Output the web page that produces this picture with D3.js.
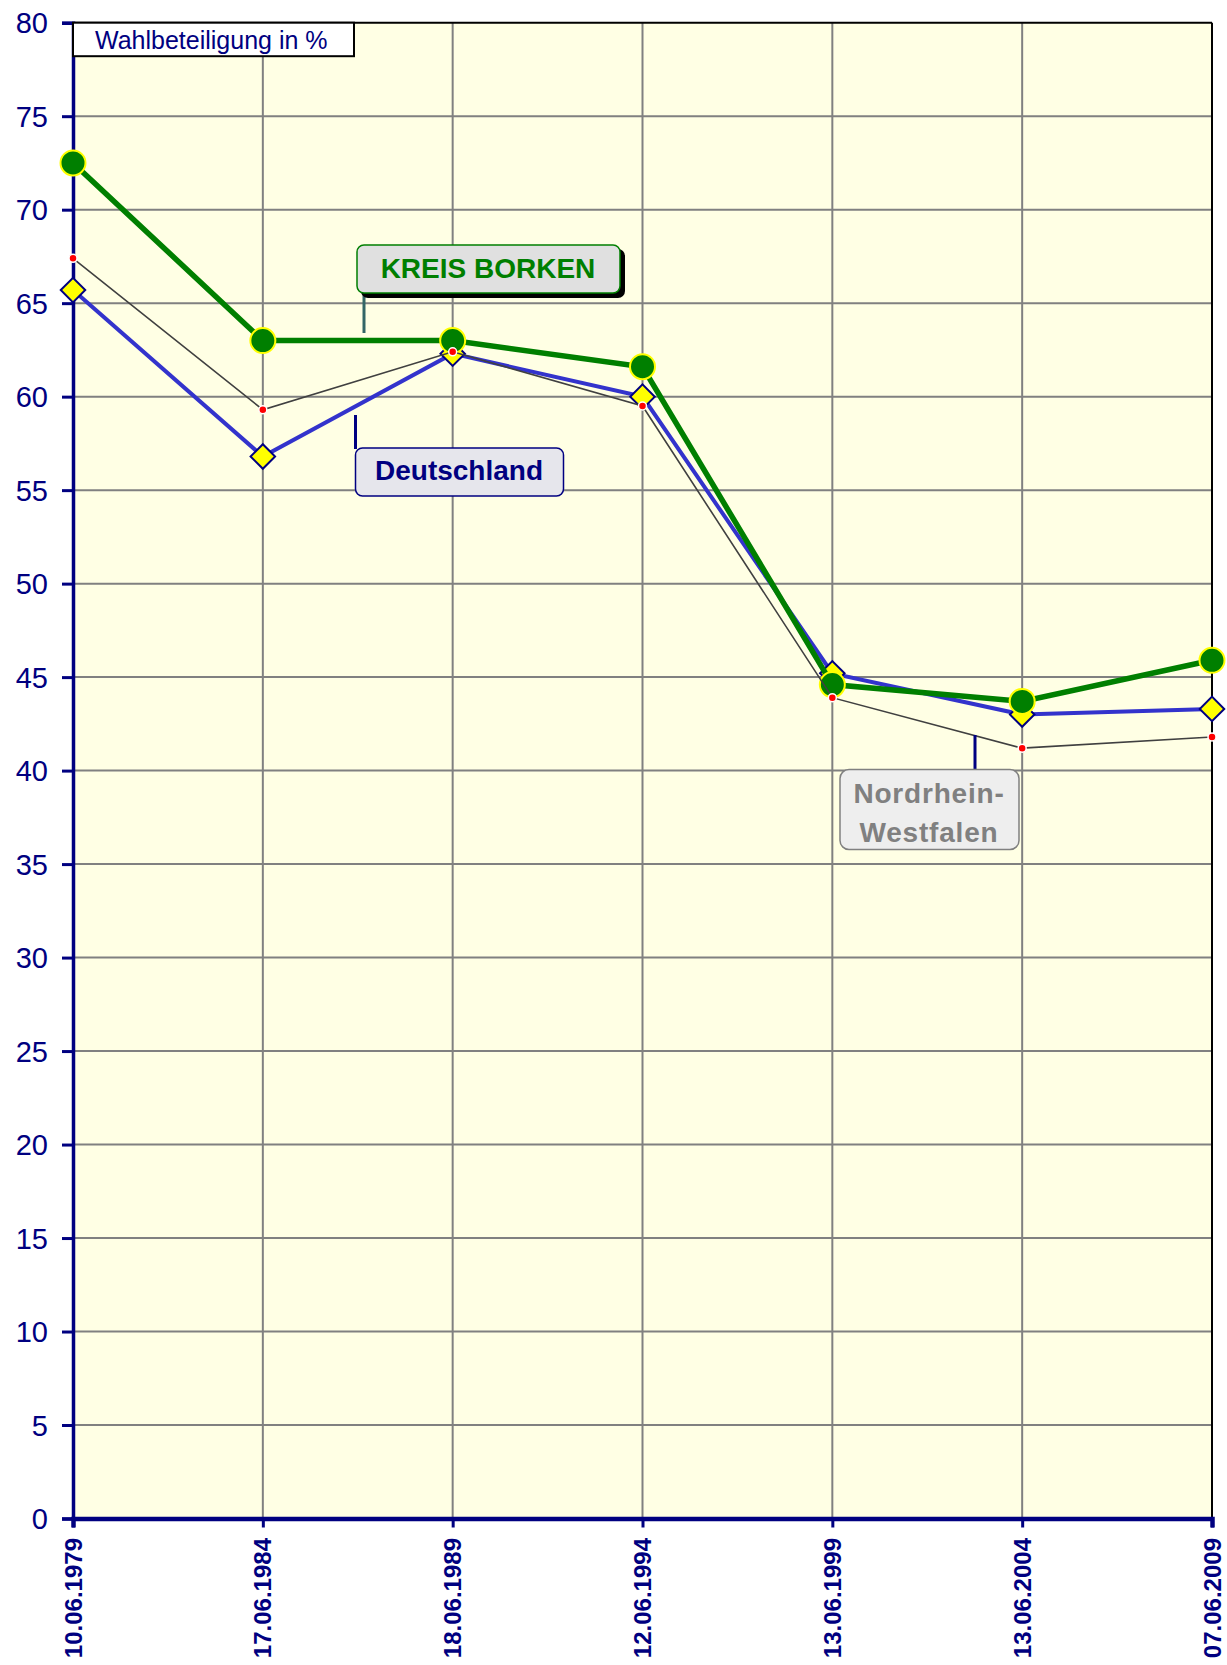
<!DOCTYPE html>
<html><head><meta charset="utf-8">
<script src="https://cdn.jsdelivr.net/npm/d3@7"></script>
<style>body{margin:0;background:#fff}svg{display:block}</style>
</head><body>
<script>
const categories = ["10.06.1979","17.06.1984","18.06.1989","12.06.1994","13.06.1999","13.06.2004","07.06.2009"];
const borken = [72.5, 63.0, 63.0, 61.6, 44.6, 43.7, 45.9];
const deutschland = [65.7, 56.8, 62.3, 60.0, 45.2, 43.0, 43.3];
const nrw = [67.4, 59.3, 62.4, 59.5, 43.9, 41.2, 41.8];
const yTicks = [0,5,10,15,20,25,30,35,40,45,50,55,60,65,70,75,80];

const W = 1227, H = 1665;
const L = 73, R = 1212, T = 22.7, B = 1518.5;
const svg = d3.select("body").append("svg").attr("width", W).attr("height", H);
const x = d3.scalePoint().domain(categories).range([L, R]).padding(0);
const y = d3.scaleLinear().domain([0, 80]).range([B, T]);
const navy = "#000080";
const font = "Liberation Sans, Arial, sans-serif";

// plot background
svg.append("rect").attr("x", L).attr("y", T).attr("width", R - L).attr("height", B - T).attr("fill", "#ffffe4");

// grid
svg.append("g").selectAll("line").data(yTicks.filter(d => d > 0 && d < 80)).join("line")
  .attr("x1", L).attr("x2", R).attr("y1", d => y(d)).attr("y2", d => y(d))
  .attr("stroke", "#808080").attr("stroke-width", 2);
svg.append("g").selectAll("line").data(categories.slice(1, -1)).join("line")
  .attr("x1", d => x(d)).attr("x2", d => x(d)).attr("y1", T).attr("y2", B)
  .attr("stroke", "#808080").attr("stroke-width", 2);

// border top/right
svg.append("line").attr("x1", L).attr("x2", R).attr("y1", T).attr("y2", T).attr("stroke", "#000").attr("stroke-width", 2);
svg.append("line").attr("x1", R).attr("x2", R).attr("y1", T).attr("y2", B).attr("stroke", "#000").attr("stroke-width", 2);

// y axis
const yAxis = svg.append("g").attr("transform", `translate(${L},0)`)
  .call(d3.axisLeft(y).tickValues(yTicks).tickSize(11).tickPadding(14));
yAxis.select(".domain").attr("stroke", navy).attr("stroke-width", 3.5);
yAxis.selectAll(".tick line").attr("stroke", navy).attr("stroke-width", 3);
yAxis.selectAll(".tick text").attr("fill", navy).attr("font-family", font)
  .attr("font-size", 29).attr("dy", "0.35em");

// x axis
const xAxis = svg.append("g").attr("transform", `translate(0,${B})`)
  .call(d3.axisBottom(x).tickSize(9).tickFormat(""));
xAxis.select(".domain").attr("stroke", navy).attr("stroke-width", 4.5);
xAxis.selectAll(".tick line").attr("stroke", navy).attr("stroke-width", 3);
svg.append("g").selectAll("text").data(categories).join("text")
  .attr("transform", d => `translate(${x(d)},1538) rotate(-90)`)
  .attr("text-anchor", "end").attr("dy", "0.36em")
  .attr("fill", navy).attr("font-family", font)
  .attr("font-size", 24).attr("font-weight", "bold")
  .text(d => d);

const line = d3.line().x((d, i) => x(categories[i])).y(d => y(d));

// Deutschland
svg.append("path").datum(deutschland).attr("d", line).attr("fill", "none").attr("stroke", "#3333cc").attr("stroke-width", 4);
svg.append("g").selectAll("path").data(deutschland).join("path")
  .attr("d", d3.symbol(d3.symbolSquare, 300))
  .attr("transform", (d, i) => `translate(${x(categories[i])},${y(d)}) rotate(45)`)
  .attr("fill", "#ffff00").attr("stroke", navy).attr("stroke-width", 2);

// Kreis Borken
svg.append("path").datum(borken).attr("d", line).attr("fill", "none").attr("stroke", "#007f00").attr("stroke-width", 5.5);
svg.append("g").selectAll("circle").data(borken).join("circle")
  .attr("cx", (d, i) => x(categories[i])).attr("cy", d => y(d)).attr("r", 12.5)
  .attr("fill", "#007f00").attr("stroke", "#ffff00").attr("stroke-width", 2);

// NRW
svg.append("path").datum(nrw).attr("d", line).attr("fill", "none").attr("stroke", "#404040").attr("stroke-width", 1.6);
svg.append("g").selectAll("circle").data(nrw).join("circle")
  .attr("cx", (d, i) => x(categories[i])).attr("cy", d => y(d)).attr("r", 4)
  .attr("fill", "#ff0000").attr("stroke", "#ffffff").attr("stroke-width", 1.5);

// Title box
svg.append("rect").attr("x", L).attr("y", T).attr("width", 281).attr("height", 33.5)
  .attr("fill", "#fff").attr("stroke", "#000").attr("stroke-width", 2);
svg.append("text").attr("x", 95).attr("y", 49).attr("fill", navy)
  .attr("font-family", font).attr("font-size", 25).text("Wahlbeteiligung in %");

// KREIS BORKEN label
svg.append("line").attr("x1", 364).attr("x2", 364).attr("y1", 292).attr("y2", 333).attr("stroke", "#336666").attr("stroke-width", 3);
svg.append("rect").attr("x", 361).attr("y", 249).attr("width", 264).attr("height", 49).attr("rx", 7).attr("fill", "#000");
svg.append("rect").attr("x", 357).attr("y", 245).attr("width", 263).attr("height", 48).attr("rx", 7)
  .attr("fill", "#e0e0e0").attr("stroke", "#007f00").attr("stroke-width", 1.5);
svg.append("text").attr("x", 488).attr("y", 278).attr("text-anchor", "middle").attr("fill", "#007f00")
  .attr("font-family", font).attr("font-size", 28).attr("font-weight", "bold").text("KREIS BORKEN");

// Deutschland label
svg.append("line").attr("x1", 355.5).attr("x2", 355.5).attr("y1", 415).attr("y2", 449).attr("stroke", navy).attr("stroke-width", 3);
svg.append("rect").attr("x", 355.5).attr("y", 448).attr("width", 208).attr("height", 48).attr("rx", 7)
  .attr("fill", "#e6e6ec").attr("stroke", navy).attr("stroke-width", 1.5);
svg.append("text").attr("x", 459).attr("y", 480).attr("text-anchor", "middle").attr("fill", navy)
  .attr("font-family", font).attr("font-size", 28).attr("font-weight", "bold").text("Deutschland");

// NRW label
svg.append("line").attr("x1", 975).attr("x2", 975).attr("y1", 735).attr("y2", 770).attr("stroke", navy).attr("stroke-width", 3);
svg.append("rect").attr("x", 840).attr("y", 769.5).attr("width", 179).attr("height", 80).attr("rx", 9)
  .attr("fill", "#eeeeee").attr("stroke", "#808080").attr("stroke-width", 1.5);
const nt = svg.append("text").attr("text-anchor", "middle").attr("fill", "#808080")
  .attr("font-family", font).attr("font-size", 28).attr("font-weight", "bold").attr("letter-spacing", 0.8);
nt.append("tspan").attr("x", 929).attr("y", 803).text("Nordrhein-");
nt.append("tspan").attr("x", 929).attr("y", 842).text("Westfalen");
</script>
</body></html>
